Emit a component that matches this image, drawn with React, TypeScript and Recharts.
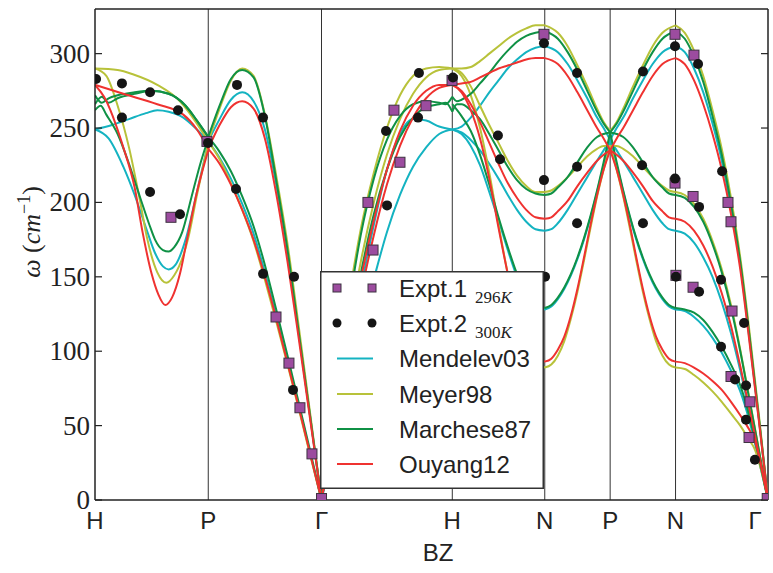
import React from 'react';
import { ComposedChart, Line, Scatter, XAxis, YAxis, ReferenceLine, Legend } from 'recharts';

type Pt = [number, number];

// Brillouin-zone path (symmetry points and their path positions)
const symLabels = ['H', 'P', 'Γ', 'H', 'N', 'P', 'N', 'Γ'];
const symPos = [0, 0.866, 1.732, 2.732, 3.439, 3.939, 4.439, 5.146];
const yTicks = [0, 50, 100, 150, 200, 250, 300];
const yMax = 330;

// Branches per segment, points are [fraction along segment, ω (cm^-1)]
// ---- Mendelev03
const M_HP: Pt[][] = [
  [[0, 249], [0.12, 243], [0.25, 224], [0.35, 205], [0.45, 183], [0.53, 166], [0.6, 157], [0.65, 155], [0.71, 158], [0.8, 175], [0.9, 207], [1, 240]],
  [[0, 249], [0.15, 252], [0.3, 256], [0.45, 260], [0.55, 262], [0.65, 261], [0.78, 257], [0.9, 249], [1, 241]],
];
const M_PG: Pt[][] = [
  [[0, 241], [0.1, 256], [0.2, 269], [0.3, 274], [0.4, 268], [0.5, 249], [0.6, 212], [0.7, 165], [0.8, 111], [0.9, 56], [1, 0]],
  [[0, 241], [0.1, 230], [0.2, 216], [0.3, 199], [0.4, 179], [0.5, 153], [0.6, 124], [0.7, 94], [0.8, 63], [0.9, 31], [1, 0]],
];
const M_GH: Pt[][] = [
  [[0, 0], [0.1, 48], [0.2, 96], [0.3, 142], [0.4, 185], [0.5, 222], [0.6, 246], [0.7, 256], [0.8, 255], [0.9, 251], [1, 249]],
  [[0, 0], [0.1, 38], [0.2, 76], [0.3, 113], [0.42, 155], [0.5, 180], [0.6, 205], [0.7, 224], [0.8, 237], [0.9, 246], [1, 249]],
];
const M_HN: Pt[][] = [
  [[0, 249], [0.1, 251], [0.2, 257], [0.3, 265], [0.4, 274], [0.5, 282], [0.6, 290], [0.7, 296], [0.8, 301], [0.9, 304], [1, 305]],
  [[0, 249], [0.1, 247], [0.2, 242], [0.3, 235], [0.4, 226], [0.5, 216], [0.6, 205], [0.7, 195], [0.8, 187], [0.9, 182], [1, 181]],
  [[0, 249], [0.1, 246], [0.2, 238], [0.3, 225], [0.4, 207], [0.5, 188], [0.6, 168], [0.7, 150], [0.8, 137], [0.9, 130], [1, 128]],
];
const M_NP: Pt[][] = [
  [[0, 305], [0.2, 301], [0.35, 293], [0.5, 282], [0.65, 270], [0.8, 257], [0.9, 250], [1, 242]],
  [[0, 181], [0.1, 182], [0.2, 186], [0.35, 195], [0.5, 206], [0.65, 217], [0.8, 228], [0.9, 235], [1, 242]],
  [[0, 128], [0.1, 130], [0.2, 135], [0.3, 142], [0.4, 151], [0.5, 162], [0.6, 175], [0.7, 190], [0.8, 207], [0.9, 225], [1, 242]],
];
const M_NG: Pt[][] = [
  [[0, 305], [0.1, 301], [0.2, 290], [0.3, 274], [0.4, 253], [0.5, 228], [0.6, 196], [0.7, 158], [0.8, 108], [0.9, 55], [1, 0]],
  [[0, 181], [0.1, 179], [0.2, 173], [0.3, 163], [0.4, 150], [0.5, 133], [0.6, 112], [0.7, 87], [0.8, 59], [0.9, 30], [1, 0]],
  [[0, 128], [0.1, 127], [0.2, 123], [0.3, 117], [0.4, 109], [0.5, 99], [0.6, 87], [0.7, 73], [0.8, 53], [0.9, 27], [1, 0]],
];

// ---- Meyer98
const Y_HP: Pt[][] = [
  [[0, 290], [0.1, 285], [0.2, 265], [0.3, 237], [0.4, 200], [0.46, 176], [0.55, 153], [0.63, 146], [0.7, 151], [0.82, 175], [0.9, 205], [1, 240]],
  [[0, 290], [0.2, 289], [0.34, 286], [0.55, 279], [0.75, 268], [0.9, 253], [1, 241]],
];
const Y_PG: Pt[][] = [
  [[0, 241], [0.1, 263], [0.2, 282], [0.3, 290], [0.4, 285], [0.5, 259], [0.6, 218], [0.7, 172], [0.8, 116], [0.9, 58], [1, 0]],
  [[0, 241], [0.1, 229], [0.2, 213], [0.3, 195], [0.4, 174], [0.5, 148], [0.6, 120], [0.7, 91], [0.8, 61], [0.9, 30], [1, 0]],
];
const Y_GH: Pt[][] = [
  [[0, 0], [0.1, 65], [0.2, 130], [0.3, 182], [0.4, 220], [0.5, 250], [0.6, 272], [0.7, 285], [0.8, 290], [0.9, 291], [1, 290]],
  [[0, 0], [0.1, 55], [0.2, 110], [0.3, 160], [0.4, 200], [0.5, 232], [0.6, 256], [0.7, 273], [0.8, 284], [0.9, 289], [1, 290]],
];
const Y_HN: Pt[][] = [
  [[0, 290], [0.1, 290], [0.2, 291], [0.3, 295], [0.4, 300], [0.5, 305], [0.6, 310], [0.7, 314], [0.8, 317], [0.9, 319], [1, 319]],
  [[0, 290], [0.1, 287], [0.2, 278], [0.3, 265], [0.4, 252], [0.5, 240], [0.6, 228], [0.7, 218], [0.8, 211], [0.9, 207], [1, 207]],
  [[0, 290], [0.1, 285], [0.2, 272], [0.3, 250], [0.4, 220], [0.5, 185], [0.6, 152], [0.7, 123], [0.8, 103], [0.9, 92], [1, 89]],
];
const Y_NP: Pt[][] = [
  [[0, 319], [0.2, 314], [0.35, 305], [0.5, 292], [0.65, 278], [0.8, 263], [0.9, 254], [1, 248]],
  [[0, 207], [0.1, 208], [0.2, 211], [0.35, 217], [0.5, 224], [0.65, 231], [0.8, 236], [0.9, 238], [1, 238]],
  [[0, 89], [0.1, 91], [0.2, 97], [0.3, 107], [0.4, 122], [0.5, 140], [0.6, 161], [0.7, 183], [0.8, 204], [0.9, 222], [1, 238]],
];
const Y_NG: Pt[][] = [
  [[0, 319], [0.1, 314], [0.2, 302], [0.3, 285], [0.4, 262], [0.5, 236], [0.6, 203], [0.7, 163], [0.8, 113], [0.9, 58], [1, 0]],
  [[0, 207], [0.1, 205], [0.2, 199], [0.3, 189], [0.4, 174], [0.5, 155], [0.6, 131], [0.7, 101], [0.8, 68], [0.9, 34], [1, 0]],
  [[0, 89], [0.1, 88], [0.2, 84], [0.3, 79], [0.4, 73], [0.5, 66], [0.6, 58], [0.7, 50], [0.8, 40], [0.85, 35], [0.9, 26], [0.95, 14], [1, 0]],
];

// ---- Marchese87
const G_HP: Pt[][] = [
  [[0, 262], [0.05, 265], [0.1, 259], [0.2, 246], [0.3, 226], [0.4, 203], [0.48, 185], [0.53, 175], [0.6, 168], [0.65, 167], [0.7, 170], [0.77, 180], [0.85, 203], [0.93, 226], [1, 243]],
  [[0, 272], [0.06, 267], [0.12, 270], [0.2, 272], [0.35, 274], [0.5, 275], [0.65, 273], [0.8, 265], [0.9, 255], [1, 244]],
  [[0, 266], [0.06, 271], [0.12, 267], [0.2, 270], [0.35, 273], [0.5, 275], [0.65, 273], [0.8, 265], [0.9, 255], [1, 244]],
];
const G_PG: Pt[][] = [
  [[0, 244], [0.1, 265], [0.2, 283], [0.3, 289], [0.4, 284], [0.5, 258], [0.6, 215], [0.7, 168], [0.8, 112], [0.9, 56], [1, 0]],
  [[0, 244], [0.1, 234], [0.2, 221], [0.3, 204], [0.4, 184], [0.5, 158], [0.6, 128], [0.7, 97], [0.8, 65], [0.9, 33], [1, 0]],
];
const G_GH: Pt[][] = [
  [[0, 0], [0.1, 62], [0.2, 125], [0.3, 178], [0.4, 216], [0.5, 242], [0.6, 258], [0.7, 266], [0.8, 268], [0.9, 267], [0.95, 266], [1, 271]],
  [[0, 0], [0.1, 52], [0.2, 105], [0.3, 152], [0.4, 192], [0.5, 222], [0.6, 244], [0.7, 257], [0.8, 264], [0.9, 266], [0.95, 267], [1, 261]],
];
const G_HN: Pt[][] = [
  [[0, 271], [0.05, 268], [0.1, 269], [0.2, 273], [0.3, 280], [0.4, 287], [0.5, 295], [0.6, 302], [0.7, 308], [0.8, 312], [0.9, 314], [1, 315]],
  [[0, 261], [0.05, 266], [0.1, 266], [0.2, 262], [0.3, 256], [0.4, 246], [0.5, 235], [0.6, 224], [0.7, 215], [0.8, 209], [0.9, 206], [1, 205]],
  [[0, 266], [0.1, 258], [0.2, 248], [0.3, 232], [0.4, 212], [0.5, 190], [0.6, 170], [0.7, 152], [0.8, 139], [0.9, 131], [1, 129]],
];
const G_NP: Pt[][] = [
  [[0, 315], [0.2, 310], [0.35, 301], [0.5, 289], [0.65, 275], [0.8, 261], [0.9, 253], [1, 247]],
  [[0, 205], [0.1, 206], [0.2, 210], [0.35, 217], [0.5, 227], [0.65, 237], [0.8, 244], [0.9, 246], [1, 247]],
  [[0, 129], [0.1, 131], [0.2, 136], [0.3, 143], [0.4, 152], [0.5, 163], [0.6, 176], [0.7, 191], [0.8, 208], [0.9, 227], [1, 247]],
];
const G_NG: Pt[][] = [
  [[0, 315], [0.1, 310], [0.2, 298], [0.3, 281], [0.4, 258], [0.5, 232], [0.6, 199], [0.7, 160], [0.8, 110], [0.9, 56], [1, 0]],
  [[0, 205], [0.1, 203], [0.2, 197], [0.3, 187], [0.4, 172], [0.5, 153], [0.6, 129], [0.7, 100], [0.8, 67], [0.9, 34], [1, 0]],
  [[0, 129], [0.1, 128], [0.2, 126], [0.3, 121], [0.4, 113], [0.5, 103], [0.6, 91], [0.7, 77], [0.8, 56], [0.9, 29], [1, 0]],
];

// ---- Ouyang12
const R_HP: Pt[][] = [
  [[0, 279], [0.08, 271], [0.25, 237], [0.35, 210], [0.42, 180], [0.5, 152], [0.56, 138], [0.62, 131], [0.68, 136], [0.75, 152], [0.81, 174], [0.9, 207], [1, 235]],
  [[0, 279], [0.25, 273], [0.55, 266], [0.78, 259], [0.9, 249], [1, 236]],
];
const R_PG: Pt[][] = [
  [[0, 236], [0.1, 252], [0.2, 264], [0.3, 268], [0.4, 263], [0.5, 243], [0.6, 206], [0.7, 160], [0.8, 108], [0.9, 54], [1, 0]],
  [[0, 236], [0.1, 226], [0.2, 212], [0.3, 195], [0.4, 175], [0.5, 150], [0.6, 122], [0.7, 92], [0.8, 62], [0.9, 31], [1, 0]],
];
const R_GH: Pt[][] = [
  [[0, 0], [0.1, 50], [0.2, 100], [0.3, 148], [0.4, 188], [0.5, 222], [0.6, 248], [0.7, 265], [0.8, 275], [0.9, 279], [1, 279]],
  [[0, 0], [0.1, 45], [0.2, 92], [0.3, 138], [0.4, 178], [0.5, 212], [0.6, 238], [0.7, 257], [0.8, 270], [0.9, 277], [1, 279]],
];
const R_HN: Pt[][] = [
  [[0, 279], [0.1, 280], [0.2, 281], [0.3, 284], [0.4, 287], [0.5, 290], [0.6, 292], [0.7, 294], [0.8, 296], [0.9, 297], [1, 297]],
  [[0, 279], [0.1, 275], [0.2, 266], [0.3, 254], [0.4, 240], [0.5, 226], [0.6, 213], [0.7, 203], [0.8, 195], [0.9, 190], [1, 189]],
  [[0, 279], [0.1, 274], [0.2, 262], [0.3, 243], [0.4, 216], [0.5, 183], [0.6, 152], [0.7, 125], [0.8, 107], [0.9, 96], [1, 93]],
];
const R_NP: Pt[][] = [
  [[0, 297], [0.2, 293], [0.35, 285], [0.5, 274], [0.65, 262], [0.8, 250], [0.9, 243], [1, 235]],
  [[0, 189], [0.1, 190], [0.2, 194], [0.35, 201], [0.5, 211], [0.65, 220], [0.8, 228], [0.9, 232], [1, 235]],
  [[0, 93], [0.1, 95], [0.2, 101], [0.3, 110], [0.4, 124], [0.5, 142], [0.6, 163], [0.7, 185], [0.8, 205], [0.9, 222], [1, 235]],
];
const R_NG: Pt[][] = [
  [[0, 297], [0.1, 293], [0.2, 282], [0.3, 266], [0.4, 246], [0.5, 222], [0.6, 192], [0.7, 155], [0.8, 106], [0.9, 54], [1, 0]],
  [[0, 189], [0.1, 187], [0.2, 181], [0.3, 171], [0.4, 157], [0.5, 139], [0.6, 117], [0.7, 90], [0.8, 61], [0.9, 31], [1, 0]],
  [[0, 93], [0.1, 92], [0.2, 89], [0.3, 85], [0.4, 80], [0.5, 74], [0.6, 66], [0.7, 57], [0.8, 47], [0.85, 41], [0.9, 30], [0.95, 16], [1, 0]],
];

// Experimental points [path position, ω]
const expt1: Pt[] = [
  [0.581, 190], [0.856, 241], [1.384, 123], [1.483, 92], [1.567, 62], [1.659, 31], [1.732, 1],
  [2.126, 168], [2.087, 200], [2.332, 227], [2.286, 262], [2.531, 265], [2.730, 282],
  [3.433, 313], [4.435, 313], [4.435, 213], [4.580, 299], [4.573, 204], [4.840, 200], [4.863, 187],
  [4.442, 151], [4.573, 143], [4.871, 127], [4.863, 83], [5.008, 66], [5.001, 42], [5.140, 1],
];
const expt2: Pt[] = [
  [0.008, 283], [0.206, 280], [0.421, 274], [0.635, 262], [0.206, 257], [0.421, 207], [0.650, 192], [0.864, 240],
  [1.086, 279], [1.285, 257], [1.078, 209], [1.285, 152], [1.522, 150], [1.514, 74],
  [2.477, 287], [2.225, 248], [2.470, 257], [2.737, 284], [2.233, 198],
  [3.081, 245], [3.097, 229], [3.433, 215], [3.433, 307], [3.441, 150],
  [3.686, 287], [3.686, 224], [3.686, 186], [4.190, 288], [4.183, 225], [4.190, 186],
  [4.435, 305], [4.435, 216], [4.611, 293], [4.619, 197], [4.795, 221],
  [4.442, 150], [4.619, 140], [4.787, 148], [4.963, 119], [4.787, 103], [4.894, 81], [4.978, 77], [4.978, 54], [5.046, 27],
];

const modelNames = ['Mendelev03', 'Meyer98', 'Marchese87', 'Ouyang12'];
const modelColors = ['#14b3c1', '#b8c23a', '#0f9145', '#ef3230'];
const modelSegs: Pt[][][][] = [
  [M_HP, M_PG, M_GH, M_HN, M_NP, M_NP, M_NG],
  [Y_HP, Y_PG, Y_GH, Y_HN, Y_NP, Y_NP, Y_NG],
  [G_HP, G_PG, G_GH, G_HN, G_NP, G_NP, G_NG],
  [R_HP, R_PG, R_GH, R_HN, R_NP, R_NP, R_NG],
];

function toData(seg: number, pts: Pt[]) {
  const a = symPos[seg];
  const b = symPos[seg + 1];
  const mirror = seg === 5; // P -> N mirrors N -> P
  const out = pts.map(([t, v]) => ({ x: mirror ? b - t * (b - a) : a + t * (b - a), y: v }));
  out.sort((p, q) => p.x - q.x);
  return out;
}

const PL = 95;
const PR = 768;
const PB = 500;
const SANS = "'Liberation Sans', Arial, Helvetica, sans-serif";
const SERIF = "'Liberation Serif', 'DejaVu Serif', 'Times New Roman', serif";

// left tick label + inward tick marks on both the left and right frame edges
const LeftTick = (props: any) => {
  const { y, payload } = props;
  return (
    <g>
      <line x1={PL} x2={PL + 7} y1={y} y2={y} stroke="#222" strokeWidth={1.2} />
      <line x1={PR - 7} x2={PR} y1={y} y2={y} stroke="#222" strokeWidth={1.2} />
      <text x={PL - 5} y={y + 9} textAnchor="end" fontFamily={SERIF} fontSize={27} fill="#222">
        {payload.value}
      </text>
    </g>
  );
};
const BottomTick = (props: any) => {
  const { x, index } = props;
  return (
    <text x={x} y={PB + 29} textAnchor="middle" fontFamily={SANS} fontSize={24} fill="#222">
      {symLabels[index]}
    </text>
  );
};

const YLabel = () => (
  <text x={40} y={232} transform="rotate(-90, 40, 232)" textAnchor="middle" fontFamily={SERIF} fontSize={26} fill="#222">
    <tspan fontStyle="italic">ω</tspan>
    <tspan> (</tspan>
    <tspan fontStyle="italic">cm</tspan>
    <tspan dy={-10} fontSize={18}>−1</tspan>
    <tspan dy={10}>)</tspan>
  </text>
);
const XLabel = () => (
  <text x={438} y={561} textAnchor="middle" fontFamily={SANS} fontSize={24} fill="#222">BZ</text>
);

const SquareShape = (p: any) => (
  <rect x={p.cx - 5} y={p.cy - 5} width={10} height={10} fill="#9c4c9f" stroke="#3d3340" strokeWidth={1} />
);
const CircleShape = (p: any) => <circle cx={p.cx} cy={p.cy} r={5} fill="#151515" />;

const LegendBox = () => {
  const rows = [17, 52, 87.5, 123, 158, 193];
  return (
    <svg width={224} height={218} style={{ display: 'block' }}>
      <rect x={0.75} y={0.75} width={222.5} height={216.5} fill="#fff" stroke="#333" strokeWidth={1.5} />
      <rect x={13} y={rows[0] - 4} width={8} height={8} fill="#9c4c9f" stroke="#3d3340" strokeWidth={1} />
      <rect x={48} y={rows[0] - 4} width={8} height={8} fill="#9c4c9f" stroke="#3d3340" strokeWidth={1} />
      <circle cx={17} cy={rows[1]} r={4.5} fill="#151515" />
      <circle cx={52} cy={rows[1]} r={4.5} fill="#151515" />
      <text x={79} y={rows[0] + 8.5} fontFamily={SANS} fontSize={24} fill="#222">
        Expt.1
        <tspan dx={8} dy={6} fontFamily={SERIF} fontSize={17}>296</tspan>
        <tspan fontFamily={SERIF} fontSize={17} fontStyle="italic">K</tspan>
      </text>
      <text x={79} y={rows[1] + 8.5} fontFamily={SANS} fontSize={24} fill="#222">
        Expt.2
        <tspan dx={8} dy={6} fontFamily={SERIF} fontSize={17}>300</tspan>
        <tspan fontFamily={SERIF} fontSize={17} fontStyle="italic">K</tspan>
      </text>
      {modelNames.map((n, i) => (
        <g key={n}>
          <line x1={17} x2={53} y1={rows[i + 2]} y2={rows[i + 2]} stroke={modelColors[i]} strokeWidth={2} />
          <text x={79} y={rows[i + 2] + 8.5} fontFamily={SANS} fontSize={24} fill="#222">{n}</text>
        </g>
      ))}
    </svg>
  );
};

export default function App() {
  const lines: React.ReactNode[] = [];
  modelSegs.forEach((segs, mi) => {
    segs.forEach((branches, si) => {
      branches.forEach((pts, bi) => {
        lines.push(
          <Line
            key={`l-${mi}-${si}-${bi}`}
            data={toData(si, pts)}
            dataKey="y"
            type="monotone"
            stroke={modelColors[mi]}
            strokeWidth={2}
            dot={false}
            activeDot={false}
            isAnimationActive={false}
            legendType="none"
          />
        );
      });
    });
  });

  return (
    <div style={{ position: 'absolute', left: 0, top: 0, width: 773, height: 573, background: '#fff' }}>
      <ComposedChart width={773} height={573} margin={{ top: 9, right: 5, bottom: 43, left: 10 }}>
        <XAxis
          dataKey="x"
          type="number"
          domain={[0, symPos[7]]}
          ticks={symPos}
          allowDataOverflow
          tick={<BottomTick />}
          tickLine={false}
          tickSize={0}
          height={30}
          axisLine={{ stroke: '#222', strokeWidth: 1.5 }}
          label={<XLabel />}
        />
        <YAxis
          dataKey="y"
          type="number"
          domain={[0, yMax]}
          ticks={yTicks}
          allowDataOverflow
          width={85}
          tick={<LeftTick />}
          tickLine={false}
          axisLine={{ stroke: '#222', strokeWidth: 1.5 }}
          label={<YLabel />}
        />
        {symPos.slice(1, 7).map((p, i) => (
          <ReferenceLine key={`v${i}`} x={p} stroke="#333" strokeWidth={1} />
        ))}
        <ReferenceLine x={symPos[7]} stroke="#222" strokeWidth={1.5} />
        <ReferenceLine y={yMax} stroke="#222" strokeWidth={1.5} />
        <Scatter data={expt1.map(([x, y]) => ({ x, y }))} dataKey="y" shape={SquareShape} isAnimationActive={false} legendType="none" />
        <Scatter data={expt2.map(([x, y]) => ({ x, y }))} dataKey="y" shape={CircleShape} isAnimationActive={false} legendType="none" />
        {lines}
        <Legend
          layout="vertical"
          align="center"
          verticalAlign="middle"
          content={<LegendBox />}
          wrapperStyle={{ position: 'absolute', left: 320, top: 271, width: 224, height: 218, bottom: 'auto', right: 'auto' }}
        />
      </ComposedChart>
    </div>
  );
}
